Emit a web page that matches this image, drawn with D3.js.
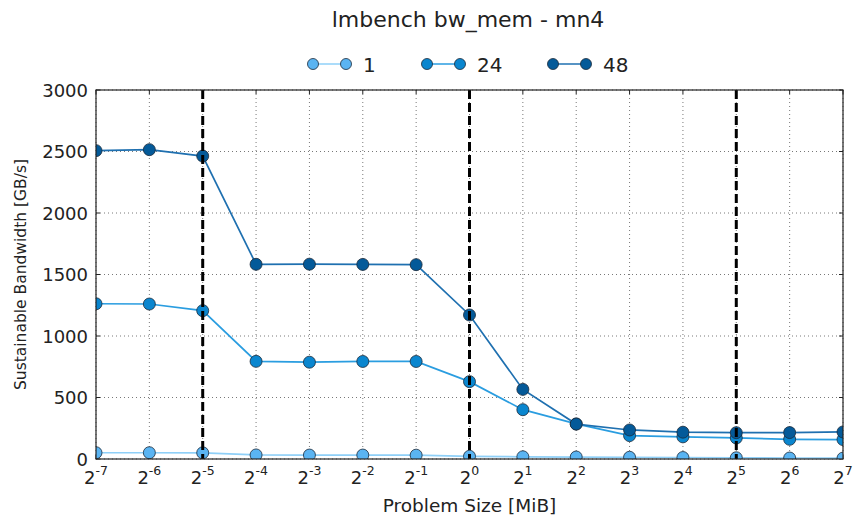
<!DOCTYPE html>
<html><head><meta charset="utf-8">
<script src="https://cdn.jsdelivr.net/npm/d3@7"></script>
<style>
body{margin:0;background:#fff;}
text{font-family:"DejaVu Sans",sans-serif;fill:#222;}
</style></head>
<body><svg id="c" width="854" height="524"></svg>
<script>
const exponents = [-7,-6,-5,-4,-3,-2,-1,0,1,2,3,4,5,6,7];
const sizes = exponents.map(e => Math.pow(2, e));
const seriesNames = ["1", "24", "48"];
const bw1  = [51, 51, 50, 33, 32, 32, 31, 22, 18, 16, 14, 12, 10, 8, 7];
const bw24 = [1262, 1260, 1206, 794, 787, 793, 793, 629, 401, 285, 190, 180, 171, 160, 158];
const bw48 = [2507, 2515, 2463, 1583, 1584, 1582, 1580, 1171, 566, 284, 236, 218, 214, 215, 220];
const yTicks = [0, 500, 1000, 1500, 2000, 2500, 3000];
const markerLines = [-5, 0, 5];
const lineColors = ["#8fd0f8", "#2a9de0", "#1f70b0"];
const fillColors = ["#5ab4f2", "#0a86cf", "#045a99"];

const svg = d3.select("#c");
const L = 96, R = 843, T = 90, B = 459;
const x = d3.scaleLog().base(2).domain([Math.pow(2,-7), Math.pow(2,7)]).range([L, R]);
const y = d3.scaleLinear().domain([0, 3000]).range([B, T]);

svg.append("defs").append("clipPath").attr("id","clip")
  .append("rect").attr("x",L).attr("y",T).attr("width",R-L).attr("height",B-T);

// grid
const g = svg.append("g");
exponents.forEach(e => {
  g.append("line").attr("x1",x(Math.pow(2,e))).attr("x2",x(Math.pow(2,e)))
   .attr("y1",T).attr("y2",B).attr("stroke","#555").attr("stroke-width",0.8)
   .attr("stroke-dasharray","1,3");
});
yTicks.forEach(v => {
  g.append("line").attr("x1",L).attr("x2",R).attr("y1",y(v)).attr("y2",y(v))
   .attr("stroke","#555").attr("stroke-width",0.8).attr("stroke-dasharray","1,3");
});

// ticks inside, all sides
exponents.forEach(e => {
  const xx = x(Math.pow(2,e));
  g.append("line").attr("x1",xx).attr("x2",xx).attr("y1",B).attr("y2",B-4).attr("stroke","#222");
  g.append("line").attr("x1",xx).attr("x2",xx).attr("y1",T).attr("y2",T+4).attr("stroke","#222");
});
yTicks.forEach(v => {
  g.append("line").attr("x1",L).attr("x2",L+4).attr("y1",y(v)).attr("y2",y(v)).attr("stroke","#222");
  g.append("line").attr("x1",R).attr("x2",R-4).attr("y1",y(v)).attr("y2",y(v)).attr("stroke","#222");
});

const plot = svg.append("g").attr("clip-path","url(#clip)");
const allSeries = [bw1, bw24, bw48];
const lineGen = d3.line().x((d,i) => x(sizes[i])).y(d => y(d));
allSeries.forEach((s, k) => {
  plot.append("path").datum(s).attr("d", lineGen).attr("fill","none")
    .attr("stroke", lineColors[k]).attr("stroke-width", 1.7);
  plot.selectAll(null).data(s).enter().append("circle")
    .attr("cx",(d,i)=>x(sizes[i])).attr("cy",d=>y(d)).attr("r",6)
    .attr("fill",fillColors[k]).attr("stroke","#1a2a3a").attr("stroke-width",0.8);
});

// dashed vertical lines
markerLines.forEach(e => {
  plot.append("line").attr("x1",x(Math.pow(2,e))).attr("x2",x(Math.pow(2,e)))
   .attr("y1",T).attr("y2",B).attr("stroke","#000").attr("stroke-width",3)
   .attr("stroke-dasharray","9,4");
});

// frame
svg.append("rect").attr("x",L).attr("y",T).attr("width",R-L).attr("height",B-T)
  .attr("fill","none").attr("stroke","#222").attr("stroke-width",1.2);

// y tick labels
yTicks.forEach(v => {
  svg.append("text").attr("x",L-8).attr("y",y(v)+6.5).attr("text-anchor","end")
    .attr("font-size",18).text(v);
});
// x tick labels
exponents.forEach(e => {
  const t = svg.append("text").attr("x",x(Math.pow(2,e))).attr("y",484)
    .attr("text-anchor","middle").attr("font-size",18);
  t.append("tspan").text("2");
  t.append("tspan").attr("dy",-9).attr("font-size",12.5).text(e < 0 ? "-" + Math.abs(e) : String(e));
});

// axis titles
svg.append("text").attr("x",(L+R)/2).attr("y",512).attr("text-anchor","middle")
  .attr("font-size",18.5).text("Problem Size [MiB]");
svg.append("text").attr("transform","translate(26,"+((T+B)/2)+") rotate(-90)")
  .attr("text-anchor","middle").attr("font-size",15.5).text("Sustainable Bandwidth [GB/s]");

// title
svg.append("text").attr("x",468).attr("y",27).attr("text-anchor","middle")
  .attr("font-size",22).text("lmbench bw_mem - mn4");

// legend
const legX = [313, 427, 553];
seriesNames.forEach((n, k) => {
  const lx = legX[k], ly = 64;
  svg.append("line").attr("x1",lx).attr("x2",lx+33).attr("y1",ly).attr("y2",ly)
    .attr("stroke",lineColors[k]).attr("stroke-width",1.7);
  [lx, lx+33].forEach(cx => svg.append("circle").attr("cx",cx).attr("cy",ly).attr("r",5.5)
    .attr("fill",fillColors[k]).attr("stroke","#1a2a3a").attr("stroke-width",0.8));
  svg.append("text").attr("x",lx+50).attr("y",ly+8).attr("font-size",20).text(n);
});
</script></body></html>
